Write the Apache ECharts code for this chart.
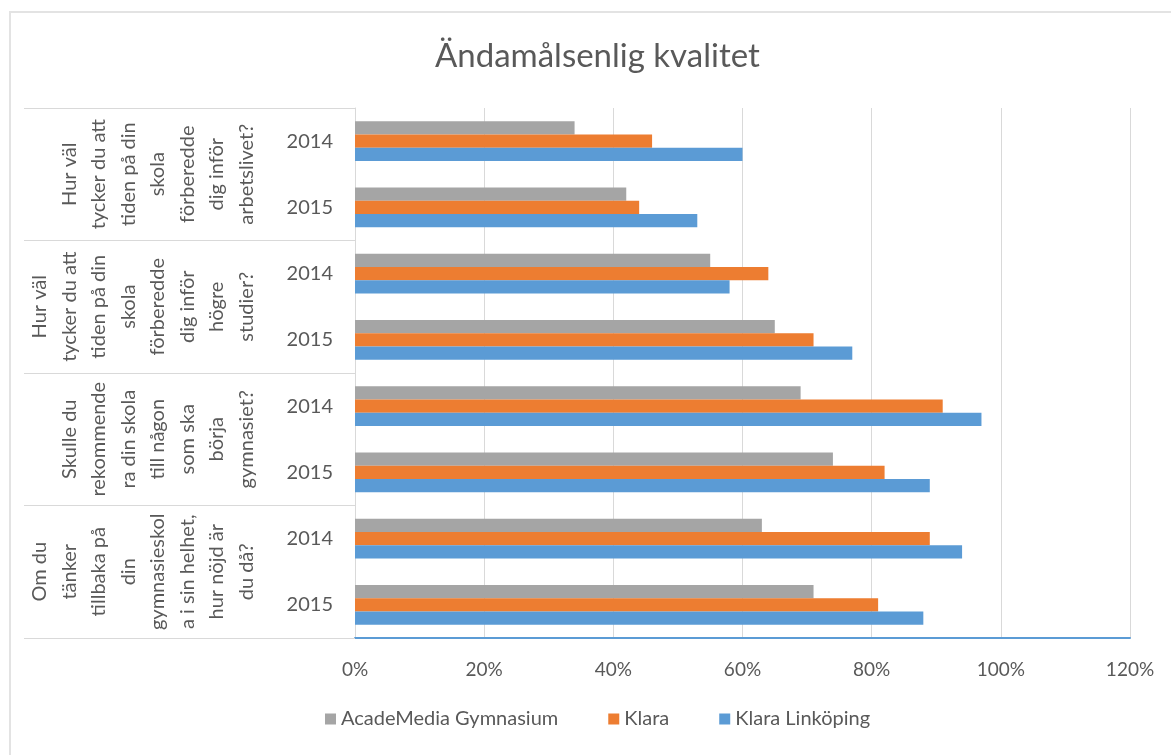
<!DOCTYPE html>
<html>
<head>
    <meta charset="UTF-8">
    <title>Ändamålsenlig kvalitet</title>
    <script src="https://cdn.jsdelivr.net/npm/echarts@6/dist/echarts.min.js"></script>
    <style>
        html, body {margin: 0; padding: 0; background: #fff; overflow: hidden;}
        #frame {position: absolute; left: 9px; top: 11px; width: 1400px; height: 1000px; border: 2px solid #e3e3e3;}
        #chart {position: absolute; left: 0; top: 0; width: 1171px; height: 755px;}
    </style>
</head>
<body>
<div id="frame"></div>
<div id="chart"></div>

<script>
    // frågor (grupp), uppifrån och ner
    var questions = [
        'Hur väl\ntycker du att\ntiden på din\nskola\nförberedde\ndig inför\narbetslivet?',
        'Hur väl\ntycker du att\ntiden på din\nskola\nförberedde\ndig inför\nhögre\nstudier?',
        'Skulle du\nrekommende\nra din skola\ntill någon\nsom ska\nbörja\ngymnasiet?',
        'Om du\ntänker\ntillbaka på\ndin\ngymnasieskol\na i sin helhet,\nhur nöjd är\ndu då?'
    ];
    var years = ['2014', '2015', '2014', '2015', '2014', '2015', '2014', '2015'];

    // procent
    var academedia = [34, 42, 55, 65, 69, 74, 63, 71];
    var klara = [46, 44, 64, 71, 91, 82, 89, 81];
    var klaraLinkoping = [60, 53, 58, 77, 97, 89, 94, 88];

    var xTicks = [0, 20, 40, 60, 80, 100, 120];

    var textColor = '#595959';
    var font = 'Lato';

    var myChart = echarts.init(document.getElementById('chart'));

    var option = {
        animation: false,
        title: {
            text: 'Ändamålsenlig kvalitet',
            left: 430,
            top: 35,
            textStyle: {
                color: textColor,
                fontFamily: font,
                fontWeight: 'normal',
                fontSize: 33
            }
        },
        legend: {
            bottom: 21,
            left: 320,
            icon: 'rect',
            itemWidth: 11,
            itemHeight: 11,
            itemGap: 50,
            textStyle: {color: textColor, fontFamily: font, fontSize: 20},
            data: ['AcadeMedia Gymnasium', 'Klara', 'Klara Linköping']
        },
        grid: {
            left: 355,
            right: 41,
            top: 108,
            bottom: 117
        },
        xAxis: {
            type: 'value',
            min: xTicks[0],
            max: xTicks[xTicks.length - 1],
            interval: 20,
            axisLine: {show: true, lineStyle: {color: '#5b9bd5', width: 2}},
            axisTick: {show: false},
            axisLabel: {
                color: textColor,
                fontFamily: font,
                fontSize: 19,
                margin: 22,
                formatter: '{value}%'
            },
            splitLine: {lineStyle: {color: '#d9d9d9', width: 1}}
        },
        yAxis: [
            {
                type: 'category',
                inverse: true,
                data: years,
                axisLine: {show: true, lineStyle: {color: '#d9d9d9'}},
                axisTick: {show: false},
                axisLabel: {
                    color: textColor,
                    fontFamily: font,
                    fontSize: 20,
                    margin: 22,
                    interval: 0
                }
            },
            {
                type: 'category',
                inverse: true,
                position: 'left',
                offset: 0,
                data: questions,
                axisLine: {show: false},
                axisTick: {show: true, length: 331, lineStyle: {color: '#d9d9d9'}},
                axisLabel: {
                    color: textColor,
                    fontFamily: font,
                    fontSize: 20,
                    lineHeight: 29.5,
                    rotate: 90,
                    align: 'center',
                    verticalAlign: 'bottom',
                    margin: 94,
                    interval: 0
                }
            }
        ],
        series: [
            {
                name: 'AcadeMedia Gymnasium',
                type: 'bar',
                data: academedia,
                barGap: '0%',
                barCategoryGap: '40%',
                itemStyle: {color: '#a5a5a5'}
            },
            {
                name: 'Klara',
                type: 'bar',
                data: klara,
                itemStyle: {color: '#ed7d31'}
            },
            {
                name: 'Klara Linköping',
                type: 'bar',
                data: klaraLinkoping,
                itemStyle: {color: '#5b9bd5'}
            }
        ]
    };
    myChart.setOption(option);
</script>
</body>
</html>
